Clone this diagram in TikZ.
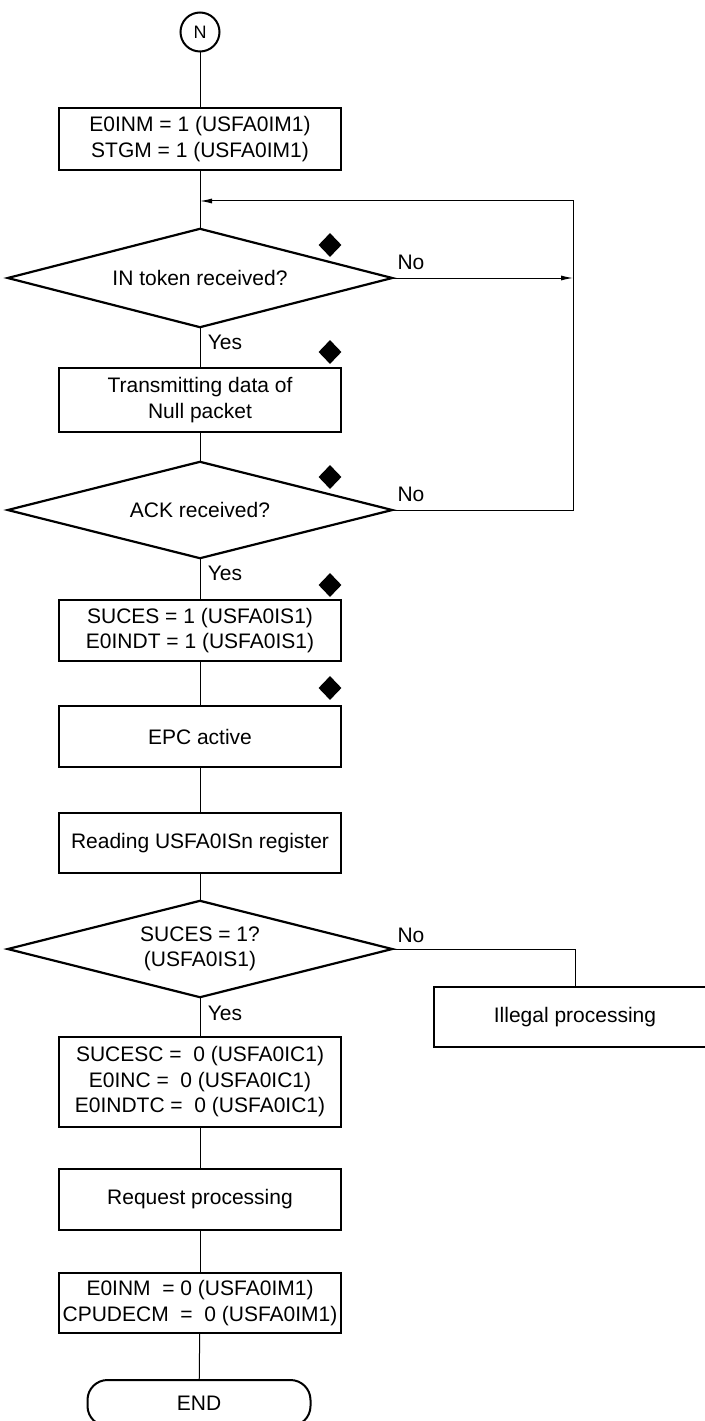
\documentclass[tikz,border=0pt]{standalone}
\usepackage{fontspec}
\setmainfont{Liberation Sans}
\usetikzlibrary{shapes.geometric,arrows.meta}
\begin{document}
\begin{tikzpicture}[x=1bp,y=-1bp,
  every node/.style={font=\fontsize{21bp}{25.5bp}\selectfont, inner sep=0pt},
  procbox/.style={draw, line width=2.2bp, minimum width=282bp, align=center},
  decision/.style={minimum width=384bp, align=center},
  marker/.style={fill, diamond, minimum width=23bp, minimum height=24bp},
  flow/.style={line width=1bp},
  outline/.style={line width=2.2bp, line join=miter},
  tip/.style={-{Latex[length=12bp,width=5bp]}}]
\useasboundingbox (0,0) rectangle (705,1421);
\clip (0,0) rectangle (705,1421);

% flow nodes
\node[circle, draw, line width=2bp, minimum size=39bp,
      font=\fontsize{18bp}{20bp}\selectfont] (start) at (200,32) {N};
\node[procbox, minimum height=62bp] (b1) at (200,139)
  {E0INM = 1 (USFA0IM1)\\STGM = 1 (USFA0IM1)};
\node[decision, minimum height=98bp] (d1) at (200,278) {IN token received?};
\node[procbox, minimum height=64bp] (b2) at (200,400)
  {Transmitting data of\\Null packet};
\node[decision, minimum height=96bp] (d2) at (200,510) {ACK received?};
\node[procbox, minimum height=61bp] (b3) at (200,630.5)
  {SUCES = 1 (USFA0IS1)\\E0INDT = 1 (USFA0IS1)};
\node[procbox, minimum height=61bp] (b4) at (200,736.5) {EPC active};
\node[procbox, minimum height=60bp] (b5) at (200,843) {Reading USFA0ISn register};
\node[decision, minimum height=96bp] (d3) at (200,949) {SUCES = 1?\\(USFA0IS1)};
\node[procbox, minimum height=60bp] (ill) at (575,1017) {Illegal processing};
\node[procbox, minimum height=90bp] (b6) at (200,1082)
  {SUCESC =\ \ 0 (USFA0IC1)\\E0INC =\ \ 0 (USFA0IC1)\\E0INDTC =\ \ 0 (USFA0IC1)};
\node[procbox, minimum height=61bp] (b7) at (200,1199.5) {Request processing};
\node[procbox, minimum height=60bp] (b8) at (200,1303)
  {E0INM\ \ = 0 (USFA0IM1)\\CPUDECM\ \ =\ \ 0 (USFA0IM1)};
\node[draw, line width=2bp, rounded corners=20bp, minimum width=223bp,
      minimum height=46bp] (end) at (199,1403) {END};

% decision outlines through the node anchors
\foreach \d in {d1,d2,d3}
  \draw[outline] (\d.north) -- (\d.east) -- (\d.south) -- (\d.west) -- cycle;

% markers
\node[marker] (m1) at (330,245) {};
\node[marker] (m2) at (330,352) {};
\node[marker] (m3) at (330,477) {};
\node[marker] (m4) at (330,585) {};
\node[marker] (m5) at (330,688) {};

% branch labels
\node (no1) at (411,262) {No};
\node (no2) at (411,494) {No};
\node (no3) at (411,935) {No};
\node (yes1) at (225,342) {Yes};
\node (yes2) at (225,573) {Yes};
\node (yes3) at (225,1013) {Yes};

% connector points
\coordinate (join) at (200,201);
\coordinate (r1) at (573,278);
\coordinate (r2) at (573,510);
\coordinate (rtop) at (573,201);

% connectors
\draw[flow] (start) -- (b1);
\draw[flow] (b1) -- (d1.north);
\draw[flow] (d1.south) -- (b2);
\draw[flow] (b2) -- (d2.north);
\draw[flow] (d2.south) -- (b3);
\draw[flow] (b3) -- (b4);
\draw[flow] (b4) -- (b5);
\draw[flow] (b5) -- (d3.north);
\draw[flow] (d3.south) -- (b6);
\draw[flow] (b6) -- (b7);
\draw[flow] (b7) -- (b8);
\draw[flow] (b8) -- (end);
\draw[flow, tip] (d1.east) -- (r1);
\draw[flow, tip] (d2.east) -- (r2) -- (rtop) -- (join);
\draw[flow] (d3.east) -| (ill.north);
\end{tikzpicture}
\end{document}
